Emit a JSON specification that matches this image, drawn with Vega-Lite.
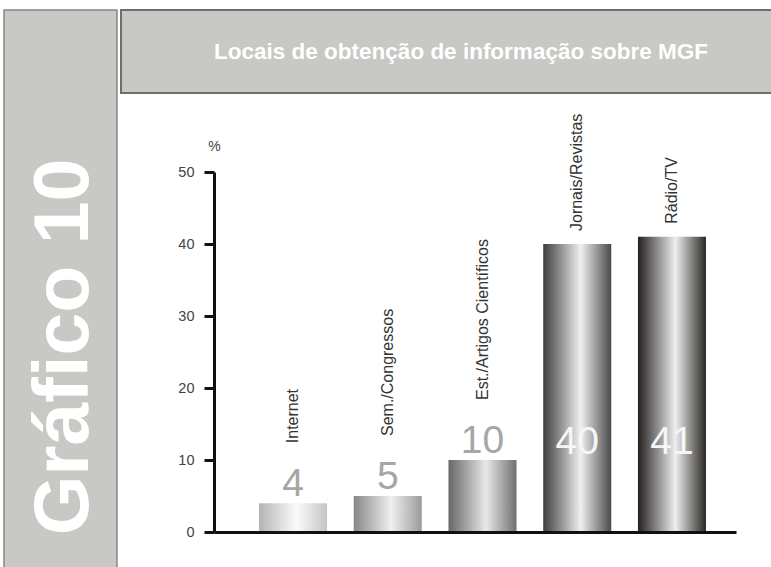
{
  "$schema": "https://vega.github.io/schema/vega-lite/v6.json",
  "background": "white",
  "padding": {"left": 3, "top": 9, "right": 0, "bottom": 0},
  "bounds": "flush",
  "spacing": 4,
  "config": {"view": {"stroke": null}, "font": "Liberation Sans"},
  "datasets": {
    "fontes": [
      {"fonte": "Internet", "pct": 4},
      {"fonte": "Sem./Congressos", "pct": 5},
      {"fonte": "Est./Artigos Científicos", "pct": 10},
      {"fonte": "Jornais/Revistas", "pct": 40},
      {"fonte": "Rádio/TV", "pct": 41}
    ]
  },
  "hconcat": [
    {
      "width": 113,
      "height": 558,
      "view": {"fill": "#c8c8c5", "stroke": "#858585", "strokeWidth": 1.5},
      "data": {"values": [{"t": "Gráfico 10"}]},
      "mark": {"type": "text", "angle": 270, "fontSize": 77, "fontWeight": "bold", "color": "#ffffff", "align": "center", "baseline": "middle", "dx": -58, "dy": 4},
      "encoding": {"text": {"field": "t"}}
    },
    {
      "vconcat": [
        {
          "width": 651,
          "height": 83,
          "view": {"fill": "#c8c8c5", "stroke": "#6e6e6e", "strokeWidth": 2},
          "data": {"values": [{"t": "Locais de obtenção de informação sobre MGF"}]},
          "mark": {"type": "text", "fontSize": 22.5, "fontWeight": "bold", "color": "#ffffff", "align": "center", "baseline": "middle", "dx": 14.5},
          "encoding": {"text": {"field": "t"}}
        },
        {
          "hconcat": [
            {
              "width": 93,
              "height": 360,
              "data": {"values": [{}]},
              "mark": {"type": "text", "text": ""}
            },
            {
              "width": 522,
              "height": 360,
              "data": {"name": "fontes"},
              "encoding": {
                "x": {
                  "field": "fonte", "type": "nominal",
                  "scale": {"domain": ["Internet", "Sem./Congressos", "Est./Artigos Científicos", "Jornais/Revistas", "Rádio/TV"], "paddingInner": 0.282, "paddingOuter": 0.396, "align": 0.6},
                  "axis": {"labels": false, "ticks": false, "title": null, "domainColor": "#111111", "domainWidth": 3, "zindex": 1}
                },
                "y": {
                  "field": "pct", "type": "quantitative",
                  "scale": {"domain": [0, 50]},
                  "axis": {"values": [0, 10, 20, 30, 40, 50], "grid": false, "domainColor": "#111111", "domainWidth": 3, "tickColor": "#111111", "tickWidth": 3, "tickSize": 10, "labelPadding": 10, "labelFontSize": 14.5, "labelColor": "#444444", "title": "%", "titleAngle": 0, "titleX": 0, "titleY": -26, "titleAlign": "center", "titleBaseline": "middle", "titleFontSize": 14, "titleFontWeight": "normal", "titleColor": "#444444", "zindex": 1}
                }
              },
              "layer": [
                {
                  "transform": [{"filter": "datum.fonte === 'Internet'"}],
                  "mark": {"type": "bar", "color": {"gradient": "linear", "x1": 0, "x2": 1, "y1": 0, "y2": 0, "stops": [{"offset": 0, "color": "#b4b4b4"}, {"offset": 0.55, "color": "#fbfbfb"}, {"offset": 1, "color": "#c4c4c4"}]}}
                },
                {
                  "transform": [{"filter": "datum.fonte === 'Sem./Congressos'"}],
                  "mark": {"type": "bar", "color": {"gradient": "linear", "x1": 0, "x2": 1, "y1": 0, "y2": 0, "stops": [{"offset": 0, "color": "#878787"}, {"offset": 0.55, "color": "#f0f0f0"}, {"offset": 1, "color": "#9a9a9a"}]}}
                },
                {
                  "transform": [{"filter": "datum.fonte === 'Est./Artigos Científicos'"}],
                  "mark": {"type": "bar", "color": {"gradient": "linear", "x1": 0, "x2": 1, "y1": 0, "y2": 0, "stops": [{"offset": 0, "color": "#666666"}, {"offset": 0.55, "color": "#e8e8e8"}, {"offset": 1, "color": "#707070"}]}}
                },
                {
                  "transform": [{"filter": "datum.fonte === 'Jornais/Revistas'"}],
                  "mark": {"type": "bar", "color": {"gradient": "linear", "x1": 0, "x2": 1, "y1": 0, "y2": 0, "stops": [{"offset": 0, "color": "#3e3e3e"}, {"offset": 0.55, "color": "#f0f0f0"}, {"offset": 1, "color": "#4a4a4a"}]}}
                },
                {
                  "transform": [{"filter": "datum.fonte === 'Rádio/TV'"}],
                  "mark": {"type": "bar", "color": {"gradient": "linear", "x1": 0, "x2": 1, "y1": 0, "y2": 0, "stops": [{"offset": 0, "color": "#242120"}, {"offset": 0.55, "color": "#eeeeee"}, {"offset": 1, "color": "#2a2826"}]}}
                },
                {
                  "transform": [{"filter": "datum.pct < 20"}],
                  "mark": {"type": "text", "fontSize": 39, "color": "#a6a6a6", "baseline": "alphabetic", "dy": -7},
                  "encoding": {"text": {"field": "pct", "type": "quantitative"}}
                },
                {
                  "transform": [{"filter": "datum.pct >= 20"}],
                  "mark": {"type": "text", "fontSize": 39, "color": "#f6f6f6", "baseline": "alphabetic", "dy": -6},
                  "encoding": {"y": {"datum": 10, "type": "quantitative"}, "text": {"field": "pct", "type": "quantitative"}}
                },
                {
                  "transform": [{"filter": "datum.pct < 20"}],
                  "mark": {"type": "text", "fontSize": 16, "color": "#333333", "angle": 270, "align": "left", "baseline": "middle", "dx": 60},
                  "encoding": {"text": {"field": "fonte"}}
                },
                {
                  "transform": [{"filter": "datum.pct >= 20"}],
                  "mark": {"type": "text", "fontSize": 16, "color": "#333333", "angle": 270, "align": "left", "baseline": "middle", "dx": 13},
                  "encoding": {"text": {"field": "fonte"}}
                }
              ]
            }
          ],
          "spacing": 0,
          "bounds": "flush"
        }
      ],
      "spacing": 79,
      "bounds": "flush",
      "align": "none"
    }
  ]
}
